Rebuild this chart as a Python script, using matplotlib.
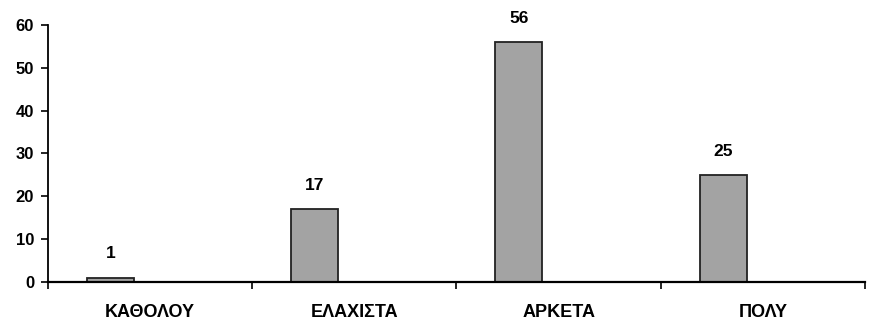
import numpy as np
import matplotlib.pyplot as plt

plt.rcParams['font.family'] = ['Liberation Sans', 'DejaVu Sans']
plt.rcParams['font.weight'] = 'bold'

categories = ['ΚΑΘΟΛΟΥ', 'ΕΛΑΧΙΣΤΑ', 'ΑΡΚΕΤΑ', 'ΠΟΛΥ']
values = [1, 17, 56, 25]
yticks = [0, 10, 20, 30, 40, 50, 60]

fig = plt.figure(figsize=(8.72, 3.24), dpi=100)
ax = fig.add_axes([0.055, 0.13, 0.937, 0.793])

idx = np.arange(len(categories))
# bars sit left of the category centre (second series is empty)
bars = ax.bar(idx + 0.305, values, width=0.23, color='#a3a3a3',
              edgecolor='#222222', linewidth=1.3, zorder=2)

for rect, v in zip(bars, values):
    ax.text(rect.get_x() + rect.get_width() / 2, v + 3.8, str(v),
            ha='center', va='bottom', fontsize=12.5, fontweight='bold')

ax.set_xlim(0, len(categories))
ax.set_ylim(0, 60)
ax.set_yticks(yticks)
ax.set_yticklabels([str(t) for t in yticks], fontsize=12, fontweight='bold')

ax.set_xticks(np.arange(len(categories) + 1))
ax.set_xticklabels([])
ax.set_xticks(idx + 0.5, minor=True)
ax.set_xticklabels(categories, minor=True, fontsize=13, fontweight='bold')
ax.tick_params(axis='x', which='minor', length=0, pad=16)
ax.tick_params(axis='x', which='major', length=5, width=1.2, direction='out')
ax.tick_params(axis='y', length=5, width=1.2, direction='out', pad=5)

for s in ['top', 'right']:
    ax.spines[s].set_visible(False)
ax.spines['left'].set_linewidth(1.3)
ax.spines['bottom'].set_linewidth(1.6)
ax.spines['bottom'].set_zorder(3)

fig.savefig('out.png', dpi=100)
